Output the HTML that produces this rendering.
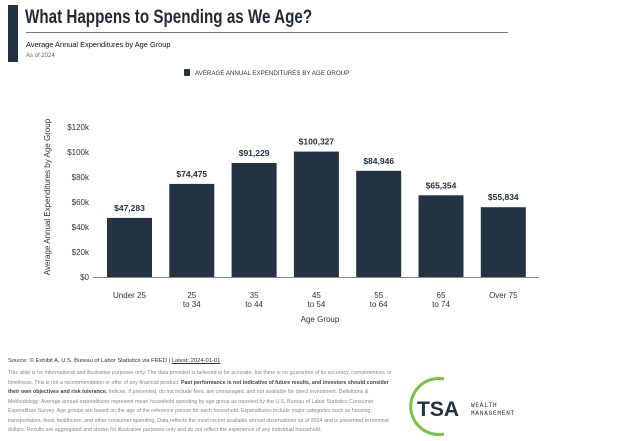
<!DOCTYPE html>
<html><head><meta charset="utf-8"><style>
body{margin:0;width:624px;height:441px;background:#fff;font-family:"Liberation Sans",sans-serif;position:relative;overflow:hidden}
.a{position:absolute;white-space:nowrap}
</style></head><body>
<div class="a" style="left:8px;top:5px;width:10px;height:57px;background:#233343"></div>
<div class="a" style="left:25px;top:7px;font-size:19px;font-weight:bold;color:#1e2a36;transform:scaleX(0.8);transform-origin:0 0">What Happens to Spending as We Age?</div>
<div class="a" style="left:26px;top:32px;width:482px;height:1px;background:#777"></div>
<div class="a" style="left:26px;top:40px;font-size:7.4px;color:#111">Average Annual Expenditures by Age Group</div>
<div class="a" style="left:26px;top:53px;font-size:6px;color:#666">As of 2024</div>
<div class="a" style="left:184px;top:69px;font-size:6.2px;color:#333"><span style="display:inline-block;width:6px;height:7px;background:#233343;border-radius:1px;vertical-align:-1px;margin-right:5px"></span>AVERAGE ANNUAL EXPENDITURES BY AGE GROUP</div>
<svg id="chart" class="a" style="left:0;top:0" width="624" height="340"></svg>
<div class="a" style="left:8px;top:358px;font-size:5.8px;color:#333">Source: © Exhibit A, U.S. Bureau of Labor Statistics via FRED | <u>Latest: 2024-01-01</u></div>
<div class="a" style="left:8px;top:369px;width:392px;white-space:normal;font-size:5.3px;line-height:9.5px;color:#888">This slide is for informational and illustrative purposes only. The data provided is believed to be accurate, but there is no guarantee of its accuracy, completeness, or timeliness. This is not a recommendation or offer of any financial product. <b style="color:#444">Past performance is not indicative of future results, and investors should consider their own objectives and risk tolerance.</b> Indices, if presented, do not include fees, are unmanaged, and not available for direct investment. Definitions &amp; Methodology: Average annual expenditures represent mean household spending by age group as reported by the U.S. Bureau of Labor Statistics Consumer Expenditure Survey. Age groups are based on the age of the reference person for each household. Expenditures include major categories such as housing, transportation, food, healthcare, and other consumer spending. Data reflects the most recent available annual observations as of 2024 and is presented in nominal dollars. Results are aggregated and shown for illustrative purposes only and do not reflect the experience of any individual household.</div>
<svg class="a" style="left:400px;top:375px" width="120" height="62">
<path d="M44 4 A28 28 0 1 0 44 59" fill="none" stroke="#7cc242" stroke-width="3"/>
<text x="17" y="41" font-family="Liberation Sans" font-weight="bold" font-size="21" fill="#233343">TSA</text>
<text x="71" y="32" font-family="Liberation Mono" font-size="6" fill="#233343" letter-spacing="0.8">WEALTH</text>
<text x="71" y="40" font-family="Liberation Mono" font-size="6" fill="#233343" letter-spacing="0.8">MANAGEMENT</text>
</svg>
<script>
const categories=[["Under 25"],["25","to 34"],["35","to 44"],["45","to 54"],["55","to 64"],["65","to 74"],["Over 75"]];
const values=[47283,74475,91229,100327,84946,65354,55834];
const ticks=[0,20000,40000,60000,80000,100000,120000];
const tickLabels=["$0","$20k","$40k","$60k","$80k","$100k","$120k"];
const svg=document.getElementById('chart');
const NS="http://www.w3.org/2000/svg";
const y0=277,ppu=150/120000,x0=129.5,step=62.3,bw=45;
const y=v=>y0-v*ppu, x=i=>x0+i*step;
function mk(t,a){const e=document.createElementNS(NS,t);for(const k in a)e.setAttribute(k,a[k]);svg.appendChild(e);return e;}
ticks.forEach((t,i)=>{const e=mk('text',{x:89,y:y(t)+3,'text-anchor':'end','font-size':8,fill:'#333','font-family':'Liberation Sans'});e.textContent=tickLabels[i];

});
values.forEach((v,i)=>{const r=mk('rect',{x:x(i)-bw/2,y:y(v),width:bw,height:y0-y(v),fill:'#233343'});


const l=mk('text',{x:x(i),y:y(v)-7,'text-anchor':'middle','font-size':8.5,'font-weight':'bold',fill:'#233343','font-family':'Liberation Sans'});l.textContent='$'+v.toLocaleString('en-US');


categories[i].forEach((c,j)=>{const t=mk('text',{x:x(i),y:298+j*9,'text-anchor':'middle','font-size':8,fill:'#333','font-family':'Liberation Sans'});t.textContent=c;

});});
const ax=mk('line',{x1:93,x2:539,y1:y0+0.5,y2:y0+0.5,stroke:'#888','stroke-width':1});


const xt=mk('text',{x:320,y:322,'text-anchor':'middle','font-size':8,fill:'#333','font-family':'Liberation Sans'});xt.textContent='Age Group';


const yt=mk('text',{x:0,y:0,transform:'translate(50,197) rotate(-90)','text-anchor':'middle','font-size':8,fill:'#333','font-family':'Liberation Sans'});yt.textContent='Average Annual Expenditures by Age Group';


</script>
</body></html>
